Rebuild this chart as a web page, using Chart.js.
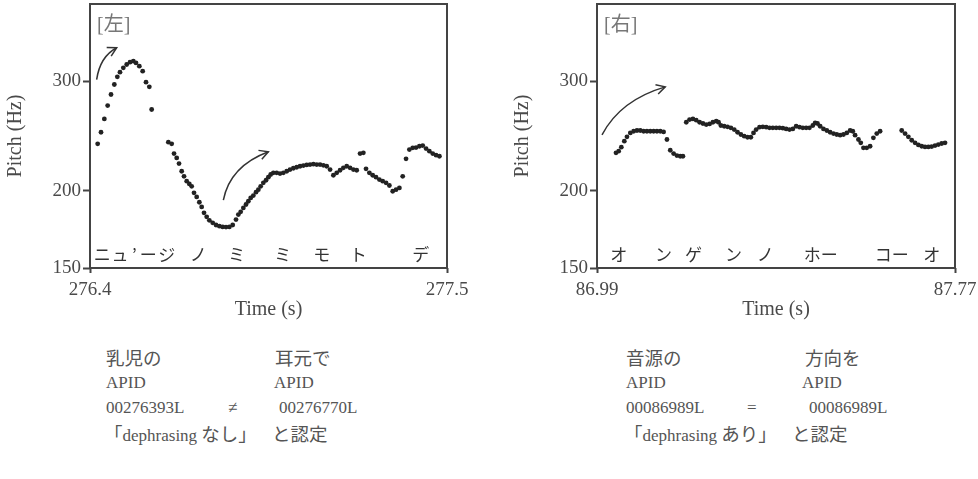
<!DOCTYPE html>
<html>
<head>
<meta charset="utf-8">
<script src="https://cdn.jsdelivr.net/npm/chart.js@4.4.0/dist/chart.umd.min.js"></script>
<style>
body { margin:0; background:#fff; width:978px; height:479px; position:relative; overflow:hidden; }
canvas { position:absolute; top:0; }
.note { position:absolute; font-family:"Liberation Serif","Noto Sans CJK JP",serif; font-size:17px; color:#555; line-height:20px; white-space:nowrap; }
.note .jp { font-family:"Noto Sans CJK JP"; font-size:18.5px; }
</style>
</head>
<body>
<canvas id="left" width="489" height="330" style="left:0"></canvas>
<canvas id="right" width="471" height="330" style="left:507px"></canvas>

<div class="note" style="left:106px;top:347px"><span class="jp">乳児の</span></div>
<div class="note" style="left:275px;top:347px"><span class="jp">耳元で</span></div>
<div class="note" style="left:106px;top:373px">APID</div>
<div class="note" style="left:274px;top:373px">APID</div>
<div class="note" style="left:106px;top:398px">00276393L</div>
<div class="note" style="left:228px;top:398px">≠</div>
<div class="note" style="left:279px;top:398px">00276770L</div>
<div class="note" style="left:104px;top:423px"><span class="jp">「</span>dephrasing <span class="jp">なし」</span></div>
<div class="note" style="left:272px;top:423px"><span class="jp">と認定</span></div>

<div class="note" style="left:626px;top:347px"><span class="jp">音源の</span></div>
<div class="note" style="left:805px;top:347px"><span class="jp">方向を</span></div>
<div class="note" style="left:626px;top:373px">APID</div>
<div class="note" style="left:802px;top:373px">APID</div>
<div class="note" style="left:626px;top:398px">00086989L</div>
<div class="note" style="left:747px;top:398px">=</div>
<div class="note" style="left:809px;top:398px">00086989L</div>
<div class="note" style="left:624px;top:423px"><span class="jp">「</span>dephrasing <span class="jp">あり」</span></div>
<div class="note" style="left:792px;top:423px"><span class="jp">と認定</span></div>

<script>
// pitch track, left panel (ニュージノ ミミモトデ)
const leftTime = [276.4236, 276.4339, 276.4442, 276.4544, 276.4647, 276.4750, 276.4842, 276.4924, 276.5027, 276.5130,
  276.5233, 276.5335, 276.5418, 276.5520, 276.5623, 276.5726, 276.5828, 276.5900,
  276.6414, 276.6517, 276.6589, 276.6671, 276.6743, 276.6825, 276.6897, 276.6979, 276.7061, 276.7133,
  276.7205, 276.7287, 276.7369, 276.7441, 276.7513, 276.7595, 276.7677, 276.7780, 276.7883, 276.7986,
  276.8088, 276.8191, 276.8294, 276.8397, 276.8499, 276.8571, 276.8643, 276.8725, 276.8807, 276.8879,
  276.8951, 276.9033, 276.9115, 276.9187, 276.9259, 276.9341, 276.9424, 276.9496, 276.9568, 276.9650,
  276.9752, 276.9855, 276.9958, 277.0061, 277.0163, 277.0266, 277.0369, 277.0472, 277.0575, 277.0677,
  277.0780, 277.0883, 277.0986, 277.1089, 277.1191, 277.1294, 277.1397, 277.1499, 277.1602, 277.1705,
  277.1807, 277.1910, 277.2013, 277.2116, 277.2218, 277.2321, 277.2423, 277.2505, 277.2608, 277.2711,
  277.2813, 277.2916, 277.3019, 277.3122, 277.3225, 277.3327, 277.3430, 277.3533, 277.3635, 277.3738,
  277.3841, 277.3944, 277.4046, 277.4149, 277.4252, 277.4355, 277.4457, 277.4560, 277.4663, 277.4766];
const leftPitch = [237.9, 248.4, 261.0, 274.3, 285.8, 296.6, 305.2, 310.5, 315.5, 319.5,
  322.3, 323.4, 321.4, 317.5, 311.6, 299.2, 294.0, 270.3,
  239.4, 237.9, 229.5, 225.8, 221.1, 214.9, 210.9, 207.1, 205.0, 203.2,
  198.3, 195.3, 191.5, 188.2, 184.1, 181.4, 179.1, 177.4, 176.0, 175.2,
  174.7, 174.6, 174.7, 176.0, 179.6, 182.9, 184.8, 187.5, 189.9, 192.2,
  194.6, 196.3, 198.8, 200.7, 203.2, 205.8, 207.8, 210.2, 212.3, 213.6,
  213.6, 213.0, 213.6, 214.9, 216.2, 217.3, 218.1, 218.9, 219.5, 220.0,
  220.3, 220.6, 220.3, 220.3, 219.7, 218.9, 216.2, 211.7, 213.6, 215.7,
  217.6, 218.9, 217.6, 216.2, 215.7, 229.5, 230.1, 216.8, 213.6, 211.7,
  210.2, 208.3, 207.1, 205.8, 203.8, 199.5, 200.7, 202.0, 210.9, 225.0,
  232.9, 234.4, 234.6, 235.8, 236.4, 233.8, 231.5, 229.5, 228.1, 227.2];

// pitch track, right panel (オンゲンノ ホーコーオ)
const rightTime = [87.0314, 87.0372, 87.0430, 87.0495, 87.0553, 87.0626, 87.0698, 87.0771, 87.0843, 87.0916,
  87.0988, 87.1061, 87.1134, 87.1206, 87.1279, 87.1351, 87.1424, 87.1496, 87.1569, 87.1641, 87.1714, 87.1772,
  87.1845, 87.1917, 87.1990, 87.2062, 87.2135, 87.2208, 87.2280, 87.2353, 87.2425, 87.2498,
  87.2548, 87.2599, 87.2672, 87.2744, 87.2817, 87.2890, 87.2962, 87.3035, 87.3107, 87.3180,
  87.3252, 87.3310, 87.3368, 87.3441, 87.3513, 87.3586, 87.3659, 87.3731, 87.3804, 87.3876,
  87.3949, 87.4021, 87.4094, 87.4167, 87.4239, 87.4312, 87.4384, 87.4457, 87.4529, 87.4602,
  87.4653, 87.4704, 87.4762, 87.4834, 87.4907, 87.4979, 87.5052, 87.5124, 87.5197, 87.5270,
  87.5342, 87.5415, 87.5473, 87.5523, 87.5596, 87.5647, 87.5705, 87.5777, 87.5850, 87.5922,
  87.5995, 87.6068,
  87.6539, 87.6612, 87.6684, 87.6757, 87.6830, 87.6902, 87.6975, 87.7047, 87.7120, 87.7192,
  87.7265, 87.7337, 87.7410, 87.7483];
const rightPitch = [230.1, 231.5, 235.0, 240.3, 244.2, 247.8, 249.3, 250.0, 250.0, 249.3,
  249.3, 249.3, 249.3, 249.3, 249.3, 248.7, 241.8, 232.3, 229.5, 227.8, 227.2, 227.2,
  257.8, 260.4, 261.0, 259.8, 257.8, 256.6, 255.6, 256.2, 257.8, 258.8,
  257.8, 254.7, 254.0, 253.4, 252.5, 250.9, 248.4, 246.3, 244.8, 243.8,
  243.8, 247.8, 250.9, 253.1, 253.4, 253.1, 252.5, 252.5, 252.5, 252.5,
  252.2, 251.5, 250.9, 251.5, 254.0, 253.1, 252.5, 252.5, 252.5, 254.7,
  257.2, 256.6, 254.0, 251.5, 250.0, 248.4, 247.2, 246.3, 245.7, 246.3,
  247.8, 250.0, 249.3, 245.7, 241.8, 238.8, 234.4, 234.4, 235.8, 243.3,
  247.2, 249.3,
  250.0, 247.2, 244.2, 241.1, 238.8, 237.0, 235.8, 235.2, 235.2, 235.5,
  236.4, 237.3, 238.2, 238.8];

const pitchTicks = [150, 200, 300];
const leftTimeTicks = [276.4, 277.5];
const rightTimeTicks = [86.99, 87.77];

// syllables written under the track
const leftSyllables = ["ニ", "ュ", "’", "ー", "ジ", "ノ", "ミ", "ミ", "モ", "ト", "デ"];
const leftSyllableTime = [276.438, 276.4925, 276.5366, 276.5798, 276.6363, 276.7338, 276.852, 276.9937, 277.1139, 277.2269, 277.419];
const rightSyllables = ["オ", "ン", "ゲ", "ン", "ノ", "ホー", "コー", "オ"];
const rightSyllableTime = [87.0372, 87.1351, 87.2004, 87.2875, 87.3564, 87.4776, 87.6322, 87.7192];

// rising arrows: start, control, end as [time, Hz]
const leftArrows = [
  [[276.4205, 302], [276.4308, 329], [276.4822, 340]],
  [[276.8109, 193], [276.8314, 219], [276.9496, 231]]
];
const rightArrows = [
  [[87.0009, 246], [87.0408, 280], [87.1387, 294]]
];

const ink = '#4a4a4a';
const serif = 'Liberation Serif';

function pitchChart(id, times, pitch, xTicks, digits, tag, syl, sylTime, arrows, padRight) {
  const points = times.map((t, i) => ({ x: t, y: pitch[i] }));
  return new Chart(document.getElementById(id), {
    type: 'scatter',
    data: { datasets: [{ data: points, pointRadius: 2.4, pointBackgroundColor: '#222', pointBorderWidth: 0, showLine: false }] },
    options: {
      responsive: false,
      animation: false,
      layout: { padding: { top: 3, right: padRight, bottom: 0, left: 0 } },
      plugins: { legend: { display: false }, tooltip: { enabled: false } },
      scales: {
        x: {
          type: 'linear', min: xTicks[0], max: xTicks[1],
          afterBuildTicks: s => { s.ticks = xTicks.map(v => ({ value: v })); },
          afterFit: s => { s.height = 62; s.paddingLeft = 0; s.paddingRight = 0; },
          grid: { display: true, drawOnChartArea: false, tickLength: 5, tickColor: '#444', tickWidth: 2 },
          border: { display: false },
          ticks: { padding: 6, color: ink, maxRotation: 0, font: { family: serif, size: 19 }, callback: v => Number(v).toFixed(digits) },
          title: { display: true, text: 'Time (s)', color: ink, font: { family: serif, size: 20 }, padding: { top: 0, bottom: 8 } }
        },
        y: {
          type: 'logarithmic', min: 150, max: 400,
          afterBuildTicks: s => { s.ticks = pitchTicks.map(v => ({ value: v })); },
          afterFit: s => { s.width = 90; s.paddingTop = 0; s.paddingBottom = 0; },
          grid: { display: true, drawOnChartArea: false, tickLength: 7, tickColor: '#444', tickWidth: 2 },
          border: { display: false },
          ticks: { padding: 2, color: ink, font: { family: serif, size: 19 }, callback: v => String(v) },
          title: { display: true, text: 'Pitch (Hz)', color: ink, font: { family: serif, size: 20 }, padding: { top: 4, bottom: 0 } }
        }
      }
    },
    plugins: [{
      id: 'frame',
      afterDatasetsDraw(chart) {
        const { ctx, chartArea: a, scales: { x, y } } = chart;
        ctx.save();
        ctx.strokeStyle = '#444';
        ctx.lineWidth = 2;
        ctx.strokeRect(a.left, a.top, a.right - a.left, a.bottom - a.top);

        ctx.fillStyle = '#777';
        ctx.font = '20px "Liberation Serif", "Noto Sans CJK JP"';
        ctx.textBaseline = 'middle';
        ctx.textAlign = 'left';
        ctx.fillText(tag, a.left + 7, a.top + 22);

        ctx.fillStyle = '#333';
        ctx.font = '17px "Noto Sans CJK JP"';
        ctx.textAlign = 'center';
        syl.forEach((s, i) => ctx.fillText(s, x.getPixelForValue(sylTime[i]), a.bottom - 13));

        ctx.strokeStyle = '#333';
        ctx.lineWidth = 1.5;
        arrows.forEach(([p0, pc, p1]) => {
          const x0 = x.getPixelForValue(p0[0]), y0 = y.getPixelForValue(p0[1]);
          const xc = x.getPixelForValue(pc[0]), yc = y.getPixelForValue(pc[1]);
          const x1 = x.getPixelForValue(p1[0]), y1 = y.getPixelForValue(p1[1]);
          ctx.beginPath();
          ctx.moveTo(x0, y0);
          ctx.quadraticCurveTo(xc, yc, x1, y1);
          ctx.stroke();
          const ang = Math.atan2(y1 - yc, x1 - xc);
          ctx.beginPath();
          ctx.moveTo(x1 - 10 * Math.cos(ang - 0.5), y1 - 10 * Math.sin(ang - 0.5));
          ctx.lineTo(x1, y1);
          ctx.lineTo(x1 - 10 * Math.cos(ang + 0.5), y1 - 10 * Math.sin(ang + 0.5));
          ctx.stroke();
        });
        ctx.restore();
      }
    }]
  });
}

pitchChart('left', leftTime, leftPitch, leftTimeTicks, 1, '[左]', leftSyllables, leftSyllableTime, leftArrows, 42);
pitchChart('right', rightTime, rightPitch, rightTimeTicks, 2, '[右]', rightSyllables, rightSyllableTime, rightArrows, 23);
</script>
</body>
</html>
